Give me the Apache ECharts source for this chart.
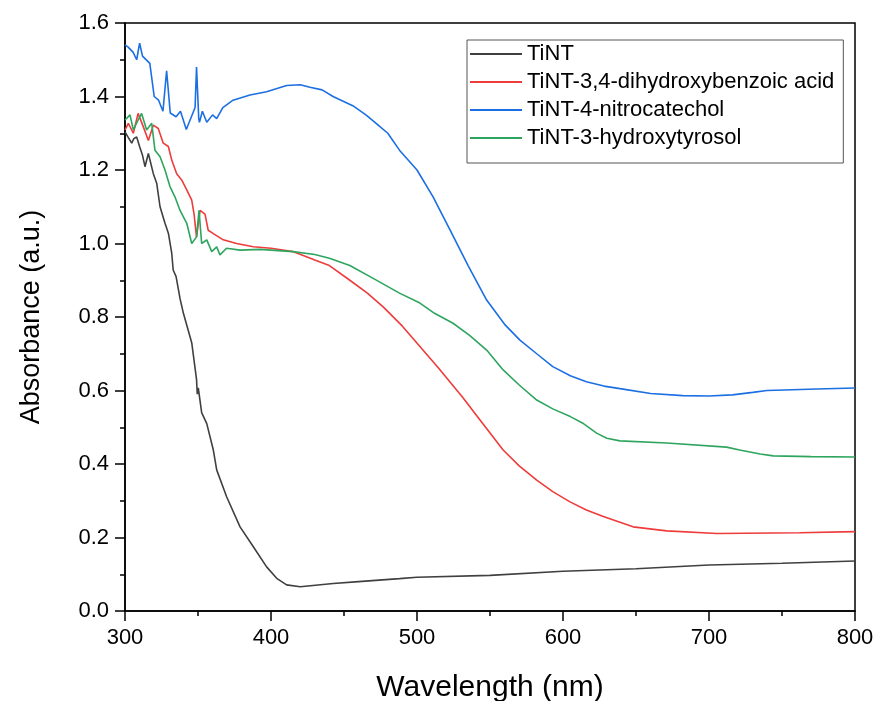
<!DOCTYPE html>
<html>
<head>
<meta charset="utf-8">
<script src="https://cdn.jsdelivr.net/npm/echarts@6/dist/echarts.min.js"></script>
<style>
html,body{margin:0;padding:0;background:#fff;}
#chart{width:877px;height:701px;}
</style>
</head>
<body>
<div id="chart"></div>
<script>
// ---- Data ----
const xTicks = [300, 400, 500, 600, 700, 800];
const yTicks = [0.0, 0.2, 0.4, 0.6, 0.8, 1.0, 1.2, 1.4, 1.6];
const seriesNames = ['TiNT', 'TiNT-3,4-dihydroxybenzoic acid', 'TiNT-4-nitrocatechol', 'TiNT-3-hydroxytyrosol'];

const tintWl  = [300, 302, 304.6, 306, 308, 310, 312, 313.7, 316, 319.4, 321.7, 324, 327.4, 329.7, 332, 333, 335, 337.7, 340, 345.7, 349, 349.5, 350.2, 352.5, 356, 360.5, 362.8, 369.6, 378.8, 387.9, 397, 403.9, 410.7, 420, 442.6, 460, 488, 500, 550, 600, 650, 700, 750, 800];
const tintAbs = [1.304, 1.29, 1.273, 1.285, 1.29, 1.264, 1.24, 1.209, 1.245, 1.19, 1.164, 1.10, 1.055, 1.028, 0.974, 0.928, 0.91, 0.85, 0.81, 0.73, 0.63, 0.59, 0.607, 0.54, 0.51, 0.438, 0.384, 0.311, 0.229, 0.175, 0.12, 0.089, 0.071, 0.066, 0.075, 0.08, 0.088, 0.092, 0.097, 0.108, 0.115, 0.125, 0.13, 0.136];

const dhbaWl  = [300, 302.3, 305.7, 309, 312.5, 316, 319.4, 322.8, 326.2, 329.7, 332, 335.4, 338.8, 342.3, 345.7, 347.3, 349, 351.4, 354.8, 357, 360.5, 367.3, 376.4, 387.9, 400, 415, 430, 440, 454, 466, 477, 490, 502, 515, 531.5, 545, 559, 570, 582, 593, 604.8, 616, 627.6, 648, 671, 705.5, 762, 800];
const dhbaAbs = [1.309, 1.327, 1.30, 1.354, 1.318, 1.28, 1.322, 1.313, 1.273, 1.264, 1.227, 1.19, 1.173, 1.146, 1.118, 1.08, 1.018, 1.09, 1.08, 1.036, 1.027, 1.01, 1.0, 0.991, 0.987, 0.978, 0.955, 0.94, 0.90, 0.865, 0.827, 0.775, 0.72, 0.66, 0.58, 0.51, 0.438, 0.395, 0.356, 0.325, 0.297, 0.275, 0.257, 0.229, 0.218, 0.211, 0.213, 0.216];

const ncWl  = [300, 302, 305.6, 308, 310, 312, 317, 320, 323, 326, 328.5, 331, 335, 338, 342, 345, 348, 349, 350.5, 351, 353, 356, 360, 362.8, 367, 374, 385.6, 397, 410.7, 420, 426.7, 435, 442.5, 456, 465, 472, 480, 488, 500, 511, 522.6, 535, 547.7, 560, 570.5, 582, 593, 605, 616, 628, 639, 660, 682, 700, 716, 730, 739.7, 774, 800];
const ncAbs = [1.54, 1.535, 1.52, 1.50, 1.545, 1.51, 1.49, 1.40, 1.39, 1.36, 1.47, 1.355, 1.345, 1.36, 1.31, 1.34, 1.37, 1.48, 1.34, 1.33, 1.36, 1.33, 1.35, 1.34, 1.37, 1.39, 1.404, 1.413, 1.43, 1.432, 1.425, 1.418, 1.40, 1.375, 1.35, 1.327, 1.30, 1.254, 1.20, 1.127, 1.037, 0.94, 0.846, 0.78, 0.737, 0.70, 0.665, 0.64, 0.624, 0.612, 0.605, 0.592, 0.586, 0.585, 0.588, 0.595, 0.6, 0.604, 0.607];

const htWl  = [300, 303.4, 305.7, 309, 311.4, 314.8, 318.3, 320.5, 324, 327.4, 330.8, 334.2, 337.7, 342.3, 345.7, 349, 350.7, 352.5, 356, 359.4, 362.8, 365, 369.6, 378.8, 392.5, 415, 430, 440, 454, 470, 488, 502, 512, 524.7, 536, 547.7, 559, 570, 582, 593, 605, 614, 623, 630, 639, 671, 712, 721, 735, 744, 770, 800];
const htAbs = [1.336, 1.35, 1.309, 1.336, 1.354, 1.309, 1.327, 1.254, 1.236, 1.2, 1.155, 1.127, 1.09, 1.055, 1.0, 1.018, 1.09, 1.0, 1.01, 0.978, 0.991, 0.969, 0.987, 0.982, 0.984, 0.978, 0.97, 0.96, 0.94, 0.905, 0.865, 0.838, 0.81, 0.783, 0.75, 0.71, 0.656, 0.615, 0.574, 0.55, 0.529, 0.51, 0.484, 0.47, 0.463, 0.457, 0.446, 0.438, 0.427, 0.422, 0.42, 0.419];

const colors = ['#404040', '#ee3b3b', '#1c6fe3', '#2ea55e'];

function zip(xs, ys) { return xs.map((x, i) => [x, ys[i]]); }

const FONT = 'Liberation Sans, Arial, sans-serif';
const chart = echarts.init(document.getElementById('chart'));
const allData = [zip(tintWl, tintAbs), zip(dhbaWl, dhbaAbs), zip(ncWl, ncAbs), zip(htWl, htAbs)];

chart.setOption({
  animation: false,
  backgroundColor: '#fff',
  grid: { left: 125, right: 22, top: 23, bottom: 90, containLabel: false, outerBoundsMode: 'none',
          show: true, borderColor: '#000', borderWidth: 1.5, backgroundColor: 'transparent' },
  legend: {
    left: 467, top: 40, orient: 'vertical',
    icon: 'rect', itemWidth: 52, itemHeight: 2, itemGap: 6,
    padding: [3, 9, 14, 3],
    borderColor: '#555', borderWidth: 1,
    textStyle: { fontFamily: FONT, fontSize: 22, color: '#000' },
    data: seriesNames
  },
  xAxis: {
    type: 'value', min: xTicks[0], max: xTicks[xTicks.length - 1], interval: 100,
    name: 'Wavelength (nm)', nameLocation: 'middle', nameGap: 62,
    nameTextStyle: { fontFamily: FONT, fontSize: 30, color: '#000' },
    axisLine: { show: true, onZero: false, lineStyle: { color: '#000', width: 1.5 } },
    axisTick: { show: true, inside: false, length: 10, lineStyle: { color: '#000', width: 1.5 } },
    minorTick: { show: true, splitNumber: 2, length: 5, lineStyle: { color: '#000', width: 1.5 } },
    axisLabel: { fontFamily: FONT, fontSize: 22, color: '#000', margin: 16 },
    splitLine: { show: false }
  },
  yAxis: {
    type: 'value', min: yTicks[0], max: yTicks[yTicks.length - 1], interval: 0.2,
    name: 'Absorbance (a.u.)', nameLocation: 'middle', nameGap: 80,
    nameTextStyle: { fontFamily: FONT, fontSize: 27, color: '#000' },
    axisLine: { show: true, onZero: false, lineStyle: { color: '#000', width: 1.5 } },
    axisTick: { show: true, inside: false, length: 10, lineStyle: { color: '#000', width: 1.5 } },
    minorTick: { show: true, splitNumber: 2, length: 5, lineStyle: { color: '#000', width: 1.5 } },
    axisLabel: { fontFamily: FONT, fontSize: 22, color: '#000', margin: 16, formatter: v => v.toFixed(1) },
    splitLine: { show: false }
  },
  series: seriesNames.map((n, i) => ({
    name: n, type: 'line', data: allData[i], symbol: 'none', showSymbol: false,
    lineStyle: { color: colors[i], width: 1.6 }, itemStyle: { color: colors[i] },
    z: i === 0 ? 5 : 2
  }))
});
</script>
</body>
</html>
